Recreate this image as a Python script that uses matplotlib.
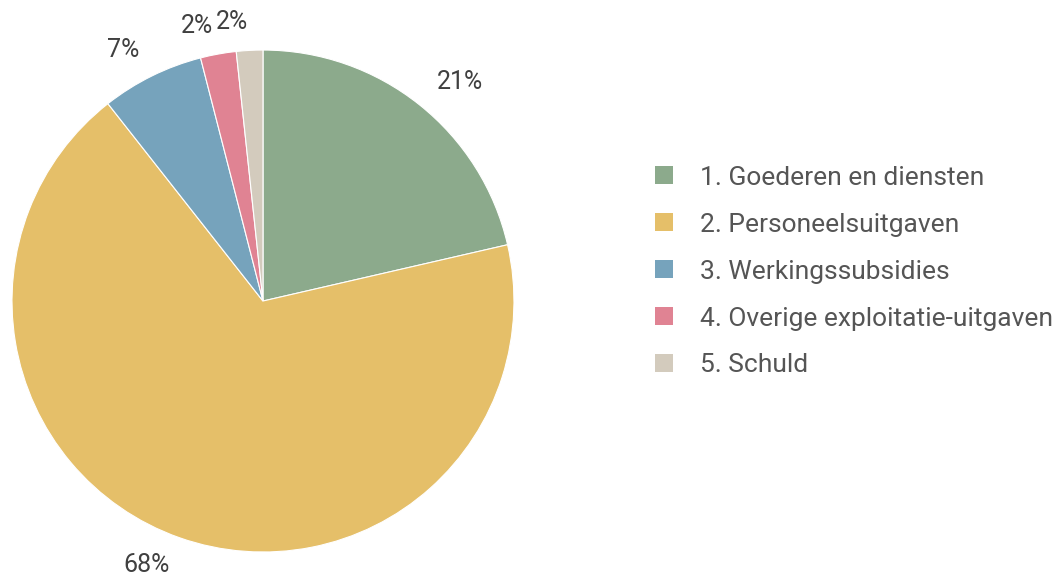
import matplotlib
matplotlib.use("Agg")
import matplotlib.pyplot as plt
from matplotlib.patches import Patch

# Data (shares in %)
categories = [
    "1. Goederen en diensten",
    "2. Personeelsuitgaven",
    "3. Werkingssubsidies",
    "4. Overige exploitatie-uitgaven",
    "5. Schuld",
]
shares = [21.4, 68.0, 6.6, 2.3, 1.7]
colours = ["#8CAA8C", "#E5BF69", "#76A3BC", "#E08393", "#D3CBBD"]

plt.rcParams["font.family"] = ["Roboto", "DejaVu Sans"]

fig = plt.figure(figsize=(10.57, 5.79), dpi=100)
ax = fig.add_axes([0.01135, 0.0466, 0.4749, 0.867])

labels = [f"{v:.0f}%" for v in shares]
wedges, texts = ax.pie(
    shares,
    colors=colours,
    labels=labels,
    startangle=90,
    counterclock=False,
    labeldistance=1.115,
    wedgeprops={"edgecolor": "white", "linewidth": 0.8},
    textprops={"fontsize": 18, "color": "#404040"},
)
for t in texts:
    t.set_clip_on(False)
ax.set_xlim(-1, 1)
ax.set_ylim(-1, 1)
ax.set_aspect("equal")

handles = [Patch(facecolor=c, edgecolor="none") for c in colours]
fig.legend(
    handles, categories,
    loc="center left", bbox_to_anchor=(0.6197, 0.531),
    frameon=False, fontsize=19, labelcolor="#555555",
    borderaxespad=0, borderpad=0,
    handlelength=0.68, handleheight=0.68, handletextpad=1.02,
    labelspacing=0.87,
)

fig.savefig("out.png", dpi=100)
plt.close(fig)
